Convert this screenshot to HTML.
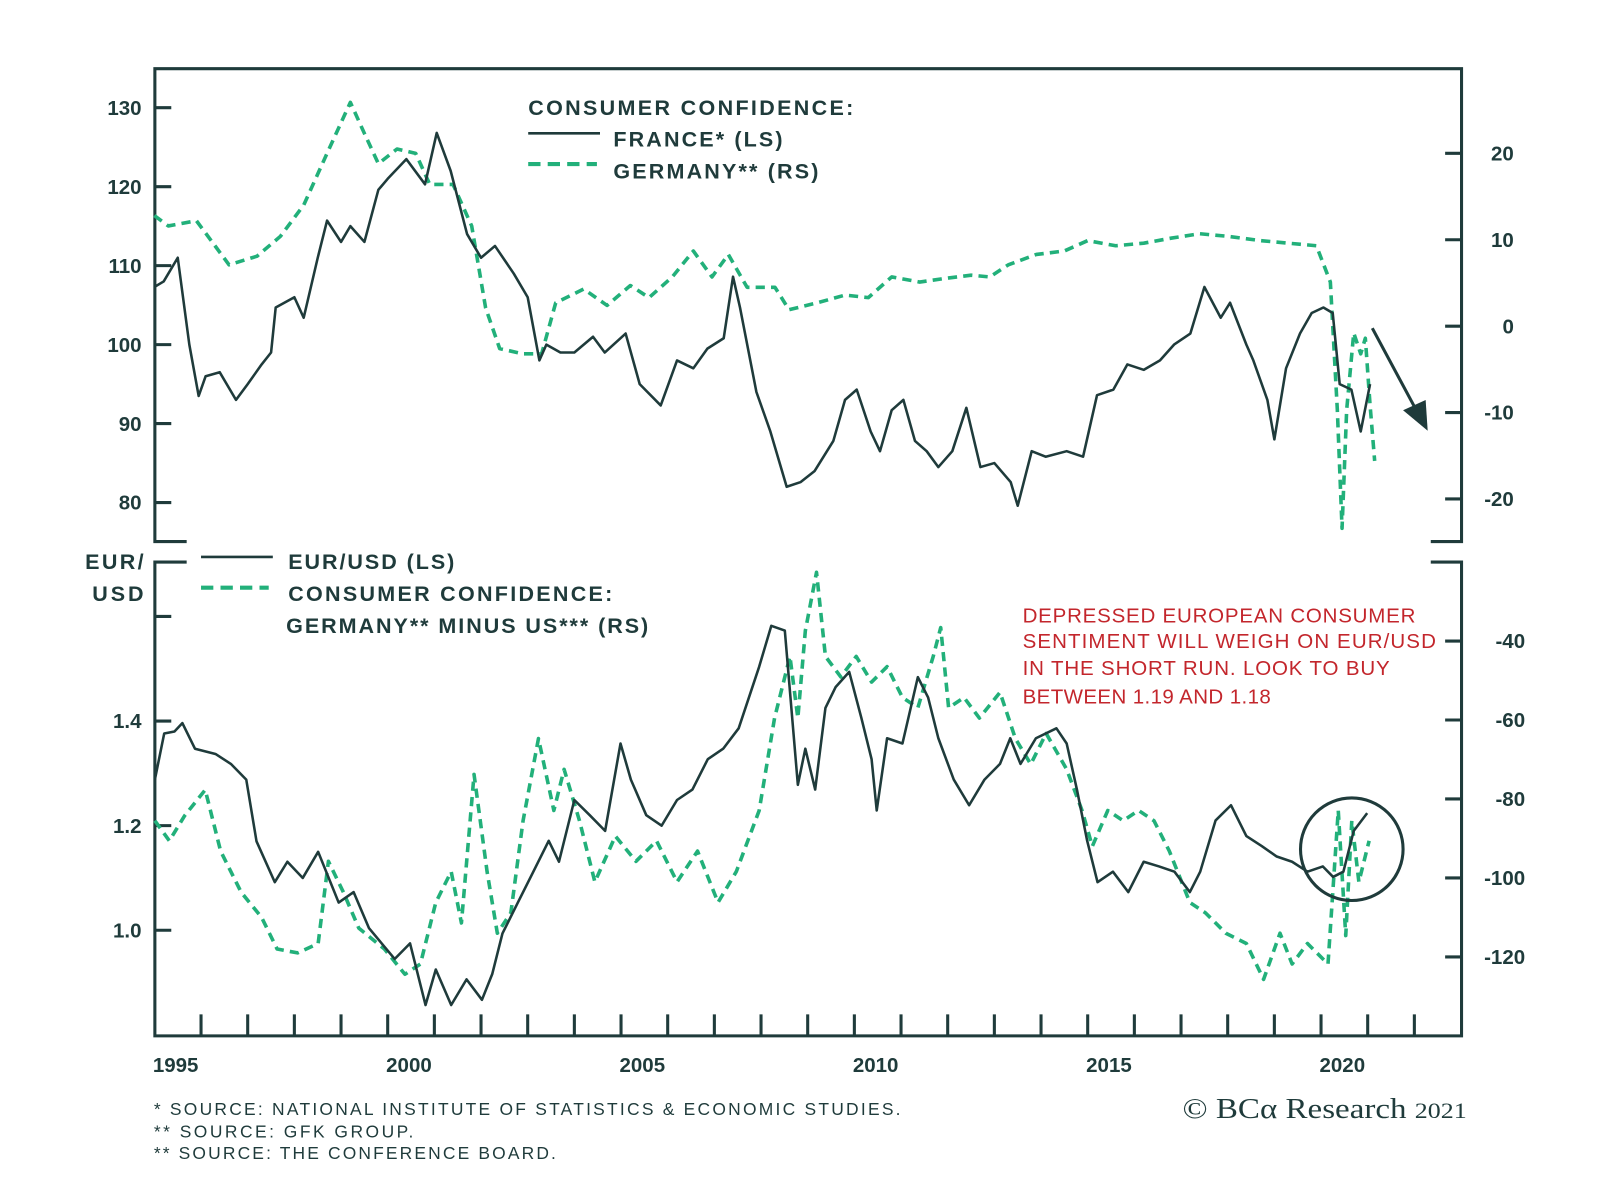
<!DOCTYPE html>
<html><head><meta charset="utf-8"><style>
html,body{margin:0;padding:0;background:#fff;}
svg{display:block;}
text{font-family:"Liberation Sans",sans-serif;}
</style></head><body>
<svg id="chart" width="1600" height="1200" viewBox="0 0 1560 1170" xmlns="http://www.w3.org/2000/svg">
<g id="frame" stroke="#1f3b3b" stroke-width="3" fill="none">
<path d="M182,528 H151 V67 H1425 V528 H1395"/>
<path d="M182,548 H151 V1010 H1425 V548 H1395"/>
</g>
<g id="ticks" stroke="#1f3b3b" stroke-width="3"></g>
<g id="labels" font-weight="bold" font-size="20" fill="#1f3b3b"></g>
<g id="series" fill="none"></g>
<g font-weight="bold" font-size="21" fill="#1f3b3b">
<text x="515" y="112" textLength="317" lengthAdjust="spacing">CONSUMER CONFIDENCE:</text>
<line x1="515" y1="130" x2="585" y2="130" stroke="#1f3b3b" stroke-width="2.5"/>
<text x="598" y="143" textLength="165" lengthAdjust="spacing">FRANCE* (LS)</text>
<line x1="515" y1="160" x2="582" y2="160" stroke="#22b07a" stroke-width="4" stroke-dasharray="12,7"/>
<text x="598" y="174" textLength="200" lengthAdjust="spacing">GERMANY** (RS)</text>
</g>
<g font-weight="bold" font-size="21" fill="#1f3b3b">
<text x="83" y="555" textLength="57" lengthAdjust="spacing">EUR/</text>
<text x="90" y="586" textLength="50" lengthAdjust="spacing">USD</text>
<line x1="196" y1="543" x2="266" y2="543" stroke="#1f3b3b" stroke-width="2.5"/>
<text x="281" y="555" textLength="162" lengthAdjust="spacing">EUR/USD (LS)</text>
<line x1="196" y1="573" x2="262" y2="573" stroke="#22b07a" stroke-width="4" stroke-dasharray="12,7"/>
<text x="281" y="586" textLength="316" lengthAdjust="spacing">CONSUMER CONFIDENCE:</text>
<text x="279" y="617" textLength="353" lengthAdjust="spacing">GERMANY** MINUS US*** (RS)</text>
</g>
<g font-size="20" fill="#c3262c">
<text x="997" y="607" textLength="383" lengthAdjust="spacing">DEPRESSED EUROPEAN CONSUMER</text>
<text x="997" y="632" textLength="403" lengthAdjust="spacing">SENTIMENT WILL WEIGH ON EUR/USD</text>
<text x="997" y="658" textLength="358" lengthAdjust="spacing">IN THE SHORT RUN. LOOK TO BUY</text>
<text x="997" y="686" textLength="242" lengthAdjust="spacing">BETWEEN 1.19 AND 1.18</text>
</g>
<g>
<line x1="1338" y1="320" x2="1382" y2="402" stroke="#1f3b3b" stroke-width="3"/>
<polygon points="1392,420 1368,400 1390,390" fill="#1f3b3b"/>
</g>
<circle cx="1318" cy="828" r="50" fill="none" stroke="#1f3b3b" stroke-width="3"/>
<g font-size="17" fill="#1f3b3b">
<text x="150" y="1087" textLength="728" lengthAdjust="spacing">*   SOURCE: NATIONAL INSTITUTE OF STATISTICS &amp; ECONOMIC STUDIES.</text>
<text x="150" y="1109" textLength="253" lengthAdjust="spacing">**  SOURCE: GFK GROUP.</text>
<text x="150" y="1130" textLength="392" lengthAdjust="spacing">** SOURCE: THE CONFERENCE BOARD.</text>
</g>
<text x="1153" y="1090" textLength="277" lengthAdjust="spacingAndGlyphs" font-size="28" fill="#1f3b3b" style="font-family:'Liberation Serif',serif">© BCα Research <tspan font-size="22">2021</tspan></text>
</svg>
<script>
const franceT=[1995.0,1995.2,1995.5,1995.75,1995.95,1996.1,1996.4,1996.75,1997.0,1997.3,1997.5,1997.6,1998.0,1998.2,1998.5,1998.7,1999.0,1999.2,1999.5,1999.8,2000.0,2000.4,2000.8,2001.05,2001.35,2001.7,2002.0,2002.3,2002.7,2003.0,2003.25,2003.4,2003.7,2004.0,2004.4,2004.65,2005.1,2005.4,2005.85,2006.2,2006.55,2006.85,2007.2,2007.4,2007.55,2007.9,2008.2,2008.55,2008.85,2009.15,2009.55,2009.8,2010.05,2010.35,2010.55,2010.8,2011.05,2011.3,2011.55,2011.8,2012.1,2012.4,2012.7,2013.0,2013.35,2013.5,2013.8,2014.1,2014.55,2014.9,2015.2,2015.55,2015.85,2016.2,2016.55,2016.85,2017.2,2017.5,2017.85,2018.05,2018.4,2018.55,2018.85,2019.0,2019.25,2019.55,2019.8,2020.05,2020.25,2020.4,2020.65,2020.85,2021.05];
const franceV=[107.3,108,111,100,93.5,96,96.5,93,95,97.5,99,104.7,106,103.4,111,115.7,113,115,113,119.6,121,123.5,120.3,126.8,122,114,111,112.5,109,106,98,100,99,99,101,99,101.4,95,92.3,98,97,99.5,100.8,108.6,104.7,94,89,82,82.6,84,87.8,93,94.3,89,86.5,91.7,93,87.8,86.5,84.5,86.5,92,84.5,85,82.6,79.6,86.5,85.8,86.5,85.8,93.6,94.3,97.5,96.8,98,100,101.4,107.3,103.4,105.3,100,98,93,88,97,101.4,104,104.7,104,95,94.3,89,95];
const germanyT=[1995.0,1995.3,1995.9,1996.3,1996.6,1997.2,1997.7,1998.2,1998.7,1999.2,1999.5,1999.8,2000.2,2000.6,2000.9,2001.4,2001.8,2002.1,2002.4,2002.9,2003.3,2003.6,2004.2,2004.7,2005.2,2005.6,2006.1,2006.55,2006.95,2007.3,2007.7,2008.3,2008.6,2009.2,2009.8,2010.3,2010.8,2011.4,2011.9,2012.5,2012.9,2013.3,2013.9,2014.5,2015.0,2015.6,2016.2,2016.8,2017.4,2018.0,2018.7,2019.3,2019.9,2020.2,2020.35,2020.45,2020.55,2020.7,2020.85,2020.95,2021.05,2021.15];
const germanyV=[12.8,11.6,12.2,9.3,7.1,8.1,10.4,14,20,25.9,22.3,18.8,20.5,20,16.4,16.4,11.6,2.1,-2.6,-3.2,-3.2,2.7,4.3,2.4,4.7,3.3,5.7,8.7,5.7,8.3,4.5,4.5,1.9,2.7,3.6,3.3,5.7,5.1,5.5,5.9,5.7,7.1,8.3,8.7,9.9,9.3,9.6,10.2,10.7,10.4,9.9,9.6,9.3,5.1,-9.7,-23.4,-9.7,-0.8,-3.2,-1.4,-9.1,-15.6];
const eurT=[1995.01,1995.21,1995.43,1995.6,1995.87,1996.31,1996.64,1996.97,1997.19,1997.58,1997.85,1998.18,1998.51,1998.95,1999.27,1999.6,2000.15,2000.48,2000.81,2001.03,2001.36,2001.69,2002.02,2002.24,2002.46,2002.79,2003.12,2003.45,2003.67,2004.0,2004.33,2004.66,2004.99,2005.21,2005.54,2005.87,2006.2,2006.53,2006.86,2007.19,2007.52,2007.96,2008.22,2008.51,2008.79,2008.95,2009.16,2009.38,2009.6,2009.89,2010.15,2010.37,2010.48,2010.7,2011.03,2011.36,2011.58,2011.8,2012.13,2012.46,2012.79,2013.12,2013.34,2013.56,2013.89,2014.33,2014.55,2014.77,2014.99,2015.21,2015.54,2015.87,2016.2,2016.53,2016.86,2017.19,2017.41,2017.74,2018.07,2018.4,2018.73,2019.05,2019.38,2019.71,2020.04,2020.26,2020.48,2020.7,2020.99];
const eurV=[1.288,1.376,1.38,1.396,1.347,1.337,1.318,1.288,1.17,1.092,1.131,1.10,1.15,1.053,1.073,1.004,0.945,0.975,0.857,0.925,0.857,0.906,0.867,0.916,0.994,1.053,1.112,1.171,1.131,1.249,1.22,1.19,1.357,1.288,1.22,1.2,1.249,1.269,1.327,1.347,1.386,1.504,1.582,1.573,1.278,1.347,1.269,1.425,1.465,1.494,1.406,1.327,1.229,1.367,1.357,1.484,1.445,1.367,1.288,1.239,1.288,1.318,1.367,1.318,1.367,1.386,1.357,1.269,1.171,1.092,1.112,1.073,1.131,1.122,1.112,1.073,1.112,1.21,1.239,1.18,1.161,1.141,1.131,1.112,1.122,1.102,1.112,1.19,1.224];
const diffT=[1995.01,1995.32,1995.65,1996.09,1996.42,1996.86,1997.3,1997.63,1998.07,1998.51,1998.73,1999.05,1999.38,1999.93,2000.37,2000.7,2001.03,2001.36,2001.58,2001.85,2002.13,2002.35,2002.64,2002.9,2003.23,2003.56,2003.78,2004.11,2004.44,2004.88,2005.32,2005.76,2006.2,2006.64,2007.08,2007.47,2007.96,2008.29,2008.62,2008.79,2008.95,2009.19,2009.38,2009.71,2010.04,2010.37,2010.7,2011.03,2011.36,2011.69,2011.85,2012.02,2012.35,2012.68,2013.12,2013.45,2013.78,2014.11,2014.55,2014.88,2015.1,2015.43,2015.76,2016.09,2016.42,2016.75,2017.19,2017.52,2017.96,2018.4,2018.77,2019.12,2019.38,2019.71,2020.15,2020.37,2020.53,2020.66,2020.81,2021.03];
const diffV=[-85.5,-90.6,-84.2,-77.7,-93.2,-103.6,-110,-118,-119,-116.6,-95.8,-103.6,-112.7,-118,-124.4,-121.8,-106.2,-98.4,-111.4,-73.8,-98.4,-114,-108.8,-85.5,-64.7,-82.9,-72.5,-85.5,-101,-89.4,-95.8,-90.6,-101,-93.2,-106.2,-98.4,-82.9,-59.5,-43.9,-59.5,-37.4,-22.6,-43.9,-49.1,-43.9,-50.4,-46.5,-54.3,-56.9,-43.9,-36.6,-56.9,-54.3,-59.5,-53,-64.7,-71.2,-63.4,-72.5,-82.9,-92,-82.9,-85.5,-82.9,-85.5,-93.2,-106.2,-108.8,-114,-116.6,-125.7,-114,-121.8,-116.6,-121.8,-82.9,-114.6,-85.5,-101,-90.6];
const xYears=[1995,2000,2005,2010,2015,2020];
const topLeftTicks=[80,90,100,110,120,130];
const topRightTicks=[-20,-10,0,10,20];
const botLeftTicks=[1.0,1.2,1.4];
const botRightTicks=[-120,-100,-80,-60,-40];

const NS='http://www.w3.org/2000/svg';
const xS=t=>196+(t-1996)*45.5;
const yTL=v=>105+(130-v)*7.7;
const yTR=v=>318-v*8.425;
const yBL=v=>703+(1.4-v)*510;
const yBR=v=>856-(v+100)*3.85;
function mk(tag,attrs,parent){const e=document.createElementNS(NS,tag);for(const k in attrs)e.setAttribute(k,attrs[k]);parent.appendChild(e);return e;}
const ticks=document.getElementById('ticks'),labels=document.getElementById('labels'),series=document.getElementById('series');
topLeftTicks.forEach(v=>{const y=yTL(v);
 const l=mk('line',{x1:151,x2:167,y1:y,y2:y},ticks);
 
 
 const t=mk('text',{x:138,y:y+7,'text-anchor':'end'},labels);t.textContent=v;
 
 });
topRightTicks.forEach(v=>{const y=yTR(v);
 const l=mk('line',{x1:1409,x2:1425,y1:y,y2:y},ticks);
 
 
 const t=mk('text',{x:1476,y:y+7,'text-anchor':'end'},labels);t.textContent=v;
 
 });
botLeftTicks.concat([1.6]).forEach(v=>{const y=yBL(v);
 const l=mk('line',{x1:151,x2:167,y1:y,y2:y},ticks);
 
 });
botLeftTicks.forEach(v=>{const y=yBL(v);
 const t=mk('text',{x:138,y:y+7,'text-anchor':'end'},labels);t.textContent=v.toFixed(1);
 
 });
botRightTicks.forEach(v=>{const y=yBR(v);
 const l=mk('line',{x1:1409,x2:1425,y1:y,y2:y},ticks);
 
 
 const t=mk('text',{x:1487,y:y+7,'text-anchor':'end'},labels);t.textContent=v;
 
 });
for(let yr=1996;yr<=2022;yr++){const x=xS(yr);
 const l=mk('line',{x1:x,x2:x,y1:989,y2:1010},ticks);
 
 }
xYears.forEach(yr=>{const t=mk('text',{x:xS(yr+0.5)-2,y:1045,'text-anchor':'middle'},labels);t.textContent=yr;
 
 });
function line(T,V,ys,name,color,w,dash){
 const d=T.map((t,i)=>(i?'L':'M')+xS(t).toFixed(1)+','+ys(V[i]).toFixed(1)).join(' ');
 const p=mk('path',{d:d,stroke:color,'stroke-width':w,'stroke-linejoin':'round'},series);
 if(dash)p.setAttribute('stroke-dasharray',dash);
 
 }
line(germanyT,germanyV,yTR,'germany-confidence-line','#22b07a',3.5,'9,6');
line(franceT,franceV,yTL,'france-confidence-line','#1f3b3b',2.5);
line(diffT,diffV,yBR,'germany-minus-us-line','#22b07a',3.5,'9,6');
line(eurT,eurV,yBL,'eurusd-line','#1f3b3b',2.5);
</script>
</body></html>
